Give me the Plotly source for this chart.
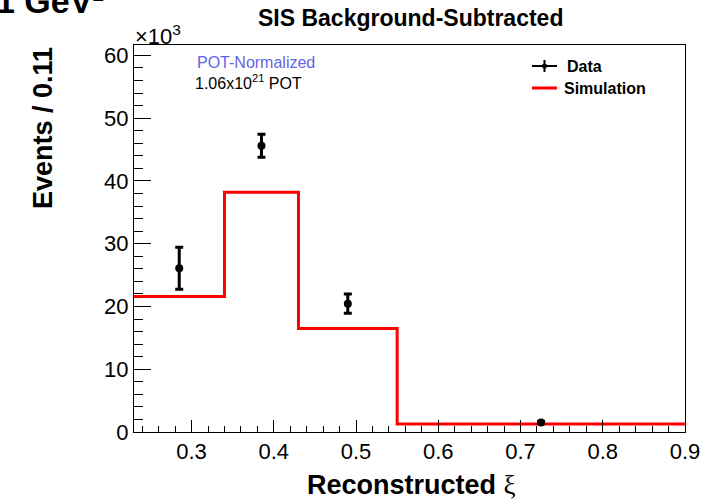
import plotly.graph_objects as go

# Binning in reconstructed xi and the background-subtracted yields
bin_edges = [0.23, 0.34, 0.43, 0.55, 0.90]
sim_counts = [21600, 38200, 16500, 1280]

data_xi = [0.285, 0.385, 0.49, 0.725]
data_counts = [26100, 45600, 20450, 1530]
data_errors = [3350, 1850, 1550, 150]

y_tick_values = [0, 10000, 20000, 30000, 40000, 50000, 60000]
y_tick_labels = ["0", "10", "20", "30", "40", "50", "60"]

W, H = 720, 500
L, R, T, B = 134, 35, 45, 68
PW, PH = W - L - R, H - T - B


def px(x):
    return (x - L) / PW


def py(y):
    return (H - B - y) / PH


FONT = "Liberation Sans, Arial, Helvetica, sans-serif"

fig = go.Figure()

# Simulation histogram drawn as a step outline
fig.add_trace(go.Scatter(
    x=bin_edges,
    y=sim_counts + [sim_counts[-1]],
    mode="lines",
    line=dict(color="#ff0000", width=3, shape="hv"),
    showlegend=False,
    hoverinfo="skip",
))

# Data points with statistical errors
fig.add_trace(go.Scatter(
    x=data_xi,
    y=data_counts,
    mode="markers",
    marker=dict(color="black", size=8),
    error_y=dict(type="data", array=data_errors, color="black", thickness=3, width=4),
    showlegend=False,
))

axis_common = dict(
    showline=True, linecolor="black", linewidth=1, mirror=True,
    ticks="inside", tickcolor="black", tickwidth=1,
    showgrid=False, zeroline=False,
    tickfont=dict(family=FONT, size=22, color="black"),
)

fig.update_xaxes(
    range=[0.23, 0.90], dtick=0.1, tick0=0.0, ticklen=12,
    minor=dict(dtick=0.02, ticklen=6, ticks="inside", tickcolor="black", showgrid=False),
    **axis_common,
)
fig.update_yaxes(
    range=[0, 61650], tickmode="array", tickvals=y_tick_values, ticktext=y_tick_labels,
    ticklen=17,
    minor=dict(dtick=2000, tick0=0, ticklen=9, ticks="inside", tickcolor="black", showgrid=False),
    **axis_common,
)

annotations = [
    # Title
    dict(text="<b>SIS Background-Subtracted</b>", x=px(410), y=py(18),
         font=dict(family=FONT, size=23, color="black")),
    # Axis titles
    dict(text="<b>Reconstructed</b> <span style='font-family:Liberation Serif, Times New Roman, serif'>ξ</span>",
         x=px(411), y=py(485), font=dict(family=FONT, size=27, color="black")),
    dict(text="<b>Events / 0.11</b>", textangle=-90, x=px(43), y=py(45), yanchor="top",
         font=dict(family=FONT, size=27, color="black")),
    # Exponent of the y axis
    dict(text="×10<sup>3</sup>", x=px(133), y=py(35), xanchor="left",
         font=dict(family=FONT, size=22, color="black")),
    # Header fragment at the top-left corner
    dict(text="<b>1 GeV²</b>", x=px(-6), y=py(22), xanchor="left", yanchor="bottom",
         font=dict(family=FONT, size=34, color="black")),
    # Normalisation labels
    dict(text="POT-Normalized", x=px(256), y=py(63),
         font=dict(family=FONT, size=16, color="#6464e6")),
    dict(text="1.06x10<sup>21</sup> POT", x=px(248), y=py(82),
         font=dict(family=FONT, size=16, color="black")),
    # Legend labels
    dict(text="<b>Data</b>", x=px(565), y=py(66), xanchor="left",
         font=dict(family=FONT, size=16, color="black")),
    dict(text="<b>Simulation</b>", x=px(562), y=py(88), xanchor="left",
         font=dict(family=FONT, size=16, color="black")),
]
for a in annotations:
    a.setdefault("xref", "paper")
    a.setdefault("yref", "paper")
    a.setdefault("showarrow", False)
    a.setdefault("xanchor", "center")
    a.setdefault("yanchor", "middle")

shapes = [
    # Legend symbol for data: horizontal and vertical strokes plus a dot
    dict(type="line", x0=px(532), x1=px(557), y0=py(66), y1=py(66),
         line=dict(color="black", width=2)),
    dict(type="line", x0=px(544.5), x1=px(544.5), y0=py(60), y1=py(72),
         line=dict(color="black", width=2)),
    dict(type="circle", x0=px(542), x1=px(547), y0=py(63.5), y1=py(68.5),
         fillcolor="black", line=dict(color="black", width=0)),
    # Legend symbol for simulation
    dict(type="line", x0=px(532), x1=px(557), y0=py(88), y1=py(88),
         line=dict(color="#ff0000", width=3)),
]
for s in shapes:
    s["xref"] = "paper"
    s["yref"] = "paper"

fig.update_layout(
    width=W, height=H,
    margin=dict(l=L, r=R, t=T, b=B, pad=0),
    paper_bgcolor="white", plot_bgcolor="white",
    showlegend=False,
    annotations=annotations,
    shapes=shapes,
    font=dict(family=FONT),
)

fig.write_html("out.html")
